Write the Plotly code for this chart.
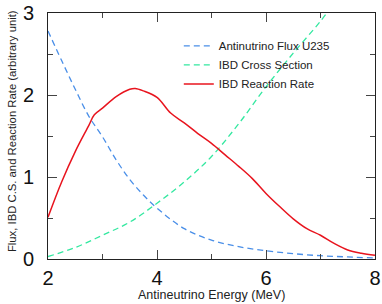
import plotly.graph_objects as go

# Data
flux_x = [2.0, 2.25, 2.5, 2.75, 3.0, 3.25, 3.5, 3.75, 4.0, 4.5, 5.0, 5.5, 6.0, 6.5, 7.0, 7.5, 8.0]
flux_y = [2.78, 2.42, 2.07, 1.74, 1.49, 1.21, 0.97, 0.78, 0.62, 0.37, 0.23, 0.15, 0.10, 0.065, 0.04, 0.025, 0.012]

xs_x = [2.0, 2.5, 3.0, 3.5, 4.0, 4.5, 5.0, 5.5, 6.0, 6.5, 7.0, 7.2]
xs_y = [0.03, 0.14, 0.29, 0.45, 0.68, 0.94, 1.25, 1.65, 2.10, 2.51, 2.90, 3.08]

rate_x = [2.0, 2.25, 2.5, 2.75, 2.85, 3.0, 3.25, 3.5, 3.6, 3.75, 4.0, 4.25, 4.5, 4.75,
          5.0, 5.25, 5.5, 5.75, 6.0, 6.25, 6.5, 6.75, 7.0, 7.25, 7.5, 7.75, 8.0]
rate_y = [0.51, 0.94, 1.31, 1.63, 1.76, 1.84, 1.98, 2.07, 2.08, 2.05, 1.97, 1.78, 1.66, 1.53,
          1.41, 1.27, 1.13, 0.98, 0.80, 0.64, 0.49, 0.37, 0.29, 0.19, 0.11, 0.07, 0.045]

series_names = ["Antinutrino Flux U235", "IBD Cross Section", "IBD Reaction Rate"]
x_tick_vals = [2, 4, 6, 8]
y_tick_vals = [0, 1, 2, 3]

FONT = "Liberation Sans, Arial, sans-serif"

fig = go.Figure()
fig.add_trace(go.Scatter(x=flux_x, y=flux_y, mode="lines", name=series_names[0],
                         line=dict(color="#4a8fe8", width=1.3, dash="6px,4px", shape="spline")))
fig.add_trace(go.Scatter(x=xs_x, y=xs_y, mode="lines", name=series_names[1],
                         line=dict(color="#33e8a0", width=1.3, dash="6px,4px", shape="spline")))
fig.add_trace(go.Scatter(x=rate_x, y=rate_y, mode="lines", name=series_names[2],
                         line=dict(color="#e8141e", width=1.5, shape="spline")))

axis_common = dict(showgrid=False, zeroline=False, showline=True, linecolor="#222222",
                   linewidth=1, mirror="allticks", ticks="inside", tickcolor="#444444",
                   ticklen=9, tickwidth=1, ticklabeloverflow="allow",
                   tickfont=dict(family=FONT, size=20, color="#111111"),
                   minor=dict(ticks="inside", ticklen=5, tickcolor="#444444", tickwidth=1))

fig.update_xaxes(range=[2, 8], tickvals=x_tick_vals, minor_dtick=1, ticklabelstandoff=1, **axis_common)
fig.update_yaxes(range=[0, 3], tickvals=y_tick_vals, minor_dtick=0.5, ticklabelstandoff=9, **axis_common)

fig.update_layout(
    width=382, height=304,
    margin=dict(l=48, r=7, t=13, b=45, autoexpand=False),
    paper_bgcolor="white", plot_bgcolor="white",
    font=dict(family=FONT, color="#222222"),
    showlegend=True,
    legend=dict(x=0.40, y=0.925, xanchor="left", yanchor="top",
                bgcolor="rgba(0,0,0,0)", borderwidth=0,
                font=dict(family=FONT, size=11.5, color="#222222"),
                tracegroupgap=0, itemwidth=30),
    annotations=[
        dict(text="Antineutrino Energy (MeV)", xref="paper", yref="paper",
             x=0.5, y=-0.183, xanchor="center", yanchor="bottom", showarrow=False,
             font=dict(family=FONT, size=12.5, color="#222222")),
        dict(text="Flux, IBD C.S. and Reaction Rate (arbitrary unit)", xref="paper", yref="paper",
             x=-0.11, y=0.52, xanchor="center", yanchor="middle", textangle=-90, showarrow=False,
             font=dict(family=FONT, size=11.3, color="#222222")),
    ],
)

fig.write_html("out.html")
